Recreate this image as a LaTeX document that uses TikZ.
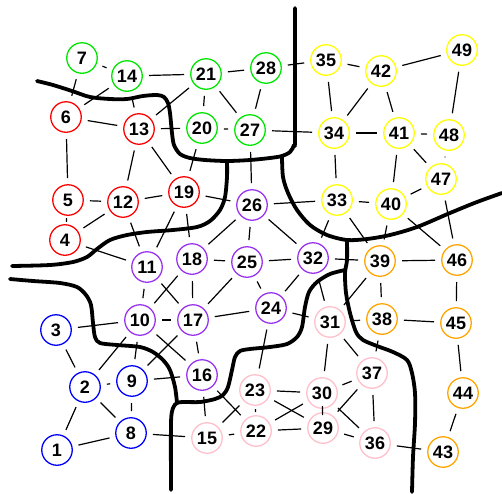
\documentclass[tikz,border=0pt]{standalone}
\usepackage{fontspec}
\setmainfont{Liberation Sans}
\definecolor{cred}{HTML}{FF0000}
\definecolor{cgreen}{HTML}{00E600}
\definecolor{cblue}{HTML}{0000FF}
\definecolor{cpurple}{HTML}{9933EE}
\definecolor{cpink}{HTML}{FFC0CB}
\definecolor{cyellow}{HTML}{FFFF00}
\definecolor{corange}{HTML}{FFA500}
\tikzset{
  nd/.style={circle, minimum size=30.5pt, inner sep=0pt, line width=1.3pt, fill=white,
    font=\fontsize{18}{18}\selectfont\bfseries},
  edge/.style={line width=1.2pt, shorten >=22pt, shorten <=22pt},
  wall/.style={line width=3.8pt, line cap=round, line join=round},
}
\begin{document}
\begin{tikzpicture}[x=1pt,y=-1pt]
\useasboundingbox (0,0) rectangle (502,493);
\foreach \i/\x/\y/\c in {
 1/57/450/cblue, 2/85/387/cblue, 3/56/330/cblue, 4/65/240/cred, 5/68/200/cred,
 6/66/117/cred, 7/82/58/cgreen, 8/131/433/cblue, 9/132/381/cblue, 10/140/320/cpurple,
 11/147/267/cpurple, 12/123/202/cred, 13/139/129/cred, 14/127/76/cgreen, 15/207/438/cpink,
 16/202/375/cpurple, 17/193/320/cpurple, 18/192/259/cpurple, 19/184/192/cred, 20/202/128/cgreen,
 21/206/74/cgreen, 22/256/431/cpink, 23/255/390/cpink, 24/271/308/cpurple, 25/247/262/cpurple,
 26/252/205/cpurple, 27/250/130/cgreen, 28/266/68/cgreen, 29/323/428/cpink, 30/322/393/cpink,
 31/330/322/cpink, 32/313/258/cpurple, 33/337/200/cyellow, 34/334/133/cyellow, 35/326/60/cyellow,
 36/375/443/cpink, 37/372/373/cpink, 38/382/319/corange, 39/380/261/corange, 40/391/204/cyellow,
 41/399/133/cyellow, 42/381/71/cyellow, 43/443/452/corange, 44/463/393/corange, 45/456/323/corange,
 46/457/260/corange, 47/441/179/cyellow, 48/449/135/cyellow, 49/462/50/cyellow}
  \node[nd, draw=\c] (n\i) at (\x,\y) {\i};
\foreach \a/\b in {7/14, 7/6, 6/14, 14/13, 14/21, 21/13, 21/20, 21/27, 21/28, 6/13, 13/20, 20/27,
 6/5, 13/12, 13/19, 20/19, 5/12, 12/19, 19/26, 5/4, 12/4, 12/11, 19/11, 19/18, 4/11, 26/27,
 28/27, 28/35, 35/42, 42/49, 35/34, 42/34, 42/41, 49/48, 27/34, 34/41, 41/48, 41/47, 48/47,
 34/33, 41/40, 47/40, 26/33, 33/40, 47/46, 40/46, 40/39, 33/39, 33/32, 26/32, 26/18, 26/25,
 18/25, 25/32, 32/39, 11/10, 18/10, 11/17, 18/17, 25/17, 25/24, 32/24, 17/24, 10/17, 24/31,
 32/31, 39/31, 24/23, 3/10, 3/2, 2/9, 2/10, 10/9, 10/16, 17/9, 17/16, 9/16, 2/8, 9/8, 2/1,
 1/8, 8/15, 16/15, 16/22, 15/23, 15/22, 23/30, 23/22, 23/29, 22/30, 22/29, 30/29, 30/37,
 31/30, 31/37, 37/29, 30/36, 29/36, 37/36, 36/43, 44/43, 45/44, 46/45, 39/46, 38/45, 39/38,
 31/38, 38/37}
  \draw[edge] (n\a.center) -- (n\b.center);
% region boundaries
\draw[wall] plot[smooth, tension=0.5] coordinates {(37,81) (53,85) (72,91) (90,97) (110,99) (127,99) (143,96) (157,95) (164,97) (168,103) (170,113) (172,133) (174,145) (180,154) (190,158) (205,160) (227,161) (250,160) (270,158) (282,156) (290,152) (294,145) (295,135) (295,8)};
\draw[wall] plot[smooth, tension=0.5] coordinates {(227,161) (227,177) (225,197) (220,210) (210,221) (197,227) (173,230) (147,232) (127,235) (110,240) (97,249) (87,257) (73,262) (50,265) (12,266)};
\draw[wall] plot[smooth, tension=0.5] coordinates {(282,157) (283,177) (288,193) (297,210) (310,225) (327,235) (347,240) (367,239) (390,235) (417,227) (450,213) (477,202) (502,193)};
\draw[wall] plot[smooth, tension=0.5] coordinates {(347,240) (347,260) (345,273) (346,293) (350,313) (356,332) (363,340) (377,346) (393,352) (407,360) (412,373) (415,393) (415,423) (413,457) (412,492)};
\draw[wall] plot[smooth, tension=0.5] coordinates {(345,270) (330,274) (317,282) (309,292) (305,307) (302,327) (297,337) (287,344) (270,347) (250,349) (240,351) (235,357) (232,370) (228,387) (223,395) (215,399) (200,402) (183,402) (177,403) (173,408) (171,423) (171,490)};
\draw[wall] plot[smooth, tension=0.5] coordinates {(177,403) (175,387) (170,370) (163,360) (153,352) (140,347) (117,345) (100,343) (95,337) (93,323) (91,305) (86,295) (77,287) (60,283) (33,281) (10,279)};
\end{tikzpicture}
\end{document}
